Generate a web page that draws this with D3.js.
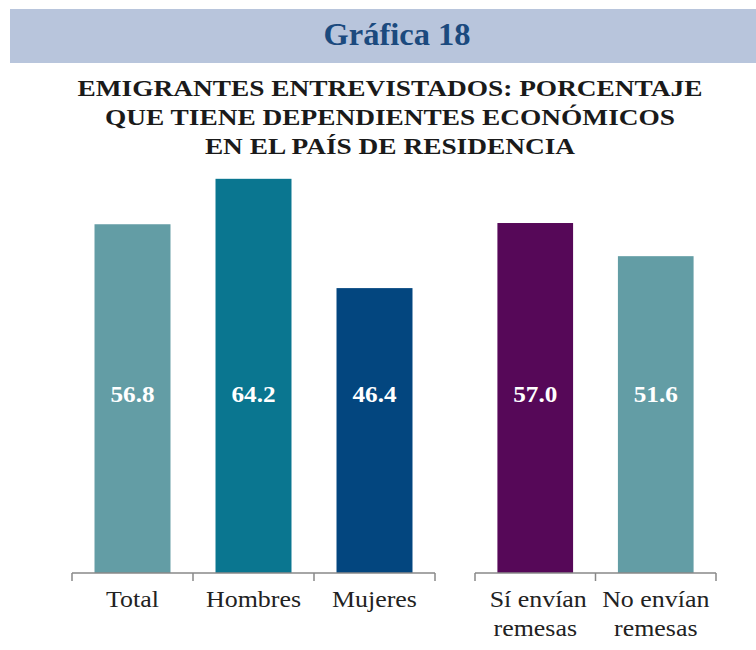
<!DOCTYPE html>
<html><head><meta charset="utf-8">
<script src="https://cdn.jsdelivr.net/npm/d3@7"></script>
<style>body{margin:0;background:#fff}svg{display:block}</style>
</head><body>
<svg id="c" width="756" height="650"></svg>
<script>
const headerText = "Gráfica 18";
const titleLines = ["EMIGRANTES ENTREVISTADOS: PORCENTAJE", "QUE TIENE DEPENDIENTES ECONÓMICOS", "EN EL PAÍS DE RESIDENCIA"];
const group1Categories = ["Total", "Hombres", "Mujeres"];
const group1Values = [56.8, 64.2, 46.4];
const group1Colors = ["#639DA5", "#0A7690", "#03467F"];
const group2Categories = [["Sí envían", "remesas"], ["No envían", "remesas"]];
const group2Values = [57.0, 51.6];
const group2Colors = ["#560858", "#639DA5"];

const svg = d3.select("#c");
const font = "'Liberation Serif', 'Times New Roman', serif";

function wideText(parent, cx, cy, sx) {
  return parent.append("g").attr("transform", `translate(${cx},${cy}) scale(${sx},1)`)
    .append("text").attr("x", 0).attr("y", 0).attr("text-anchor", "middle").attr("font-family", font);
}

svg.append("rect").attr("x", 10).attr("y", 9).attr("width", 746).attr("height", 54).attr("fill", "#B8C5DC");
wideText(svg, 397, 45, 1.0).attr("font-weight", "bold").attr("font-size", 32.5).attr("fill", "#1B4A7E").text(headerText);

titleLines.forEach((t, i) => {
  wideText(svg, 390, 96 + i * 29, 1.14).attr("font-weight", "bold").attr("font-size", 24)
    .attr("fill", "#1a1a1a").text(t);
});

const baseY = 573;
const y = d3.scaleLinear().domain([0, 100]).range([baseY, baseY - 614]);

function drawGroup(cats, vals, cols, x0, x1) {
  const keys = cats.map((c, i) => i);
  const x = d3.scaleBand().domain(keys).range([x0, x1]).paddingInner(0.372).paddingOuter(0.186);
  const g = svg.append("g");
  g.selectAll("rect").data(vals).join("rect")
    .attr("x", (d, i) => x(i)).attr("width", x.bandwidth())
    .attr("y", d => y(d)).attr("height", d => y(0) - y(d))
    .attr("fill", (d, i) => cols[i]);
  vals.forEach((d, i) => {
    wideText(g, x(i) + x.bandwidth() / 2, 402, 1.05).attr("font-weight", "bold")
      .attr("font-size", 24).attr("fill", "#fff").text(d.toFixed(1));
  });
  const step = x.step();
  g.append("line").attr("x1", x0).attr("x2", x1).attr("y1", baseY).attr("y2", baseY)
    .attr("stroke", "#888").attr("stroke-width", 1.5);
  d3.range(cats.length + 1).forEach(k => {
    const tx = x0 + k * step;
    g.append("line").attr("x1", tx).attr("x2", tx).attr("y1", baseY).attr("y2", baseY + 8)
      .attr("stroke", "#888").attr("stroke-width", 1.5);
  });
  cats.forEach((c, i) => {
    const lines = Array.isArray(c) ? c : [c];
    lines.forEach((ln, j) => {
      wideText(g, x(i) + x.bandwidth() / 2 + (lines.length > 1 && j === 0 && i === 0 ? 3 : 0), 607 + j * 28.5, 1.08)
        .attr("font-size", 24).attr("fill", "#222").text(ln);
    });
  });
}

drawGroup(group1Categories, group1Values, group1Colors, 72, 435);
drawGroup(group2Categories, group2Values, group2Colors, 475, 716);
</script>
</body></html>
